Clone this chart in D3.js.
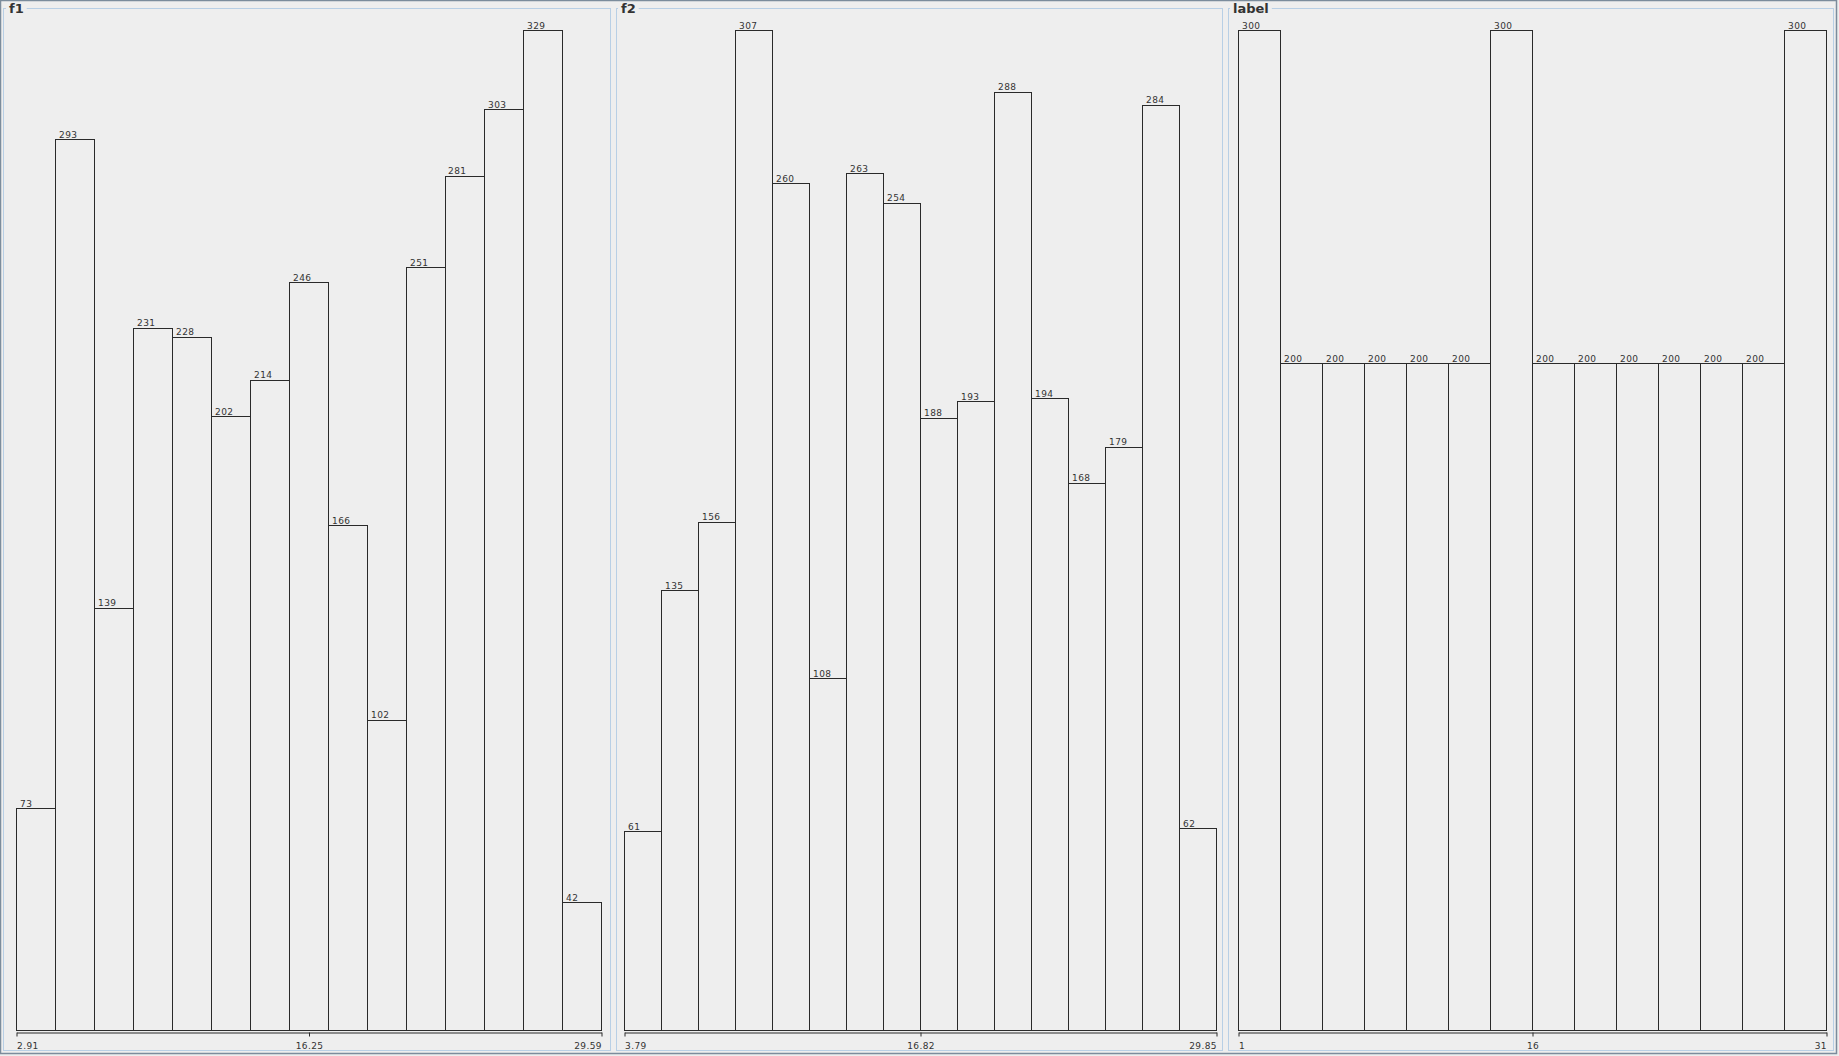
<!DOCTYPE html>
<html>
<head>
<meta charset="utf-8">
<script src="https://cdn.jsdelivr.net/npm/d3@7"></script>
<style>
  html, body { margin: 0; padding: 0; background: #eeeeee; }
  svg { display: block; }
  text { font-family: "DejaVu Sans", sans-serif; fill: #333; }
</style>
</head>
<body>
<svg id="chart" width="1839" height="1056"></svg>
<script>
// ---- data ----
const panelTitles = ["f1", "f2", "label"];
const f1Counts = [73, 293, 139, 231, 228, 202, 214, 246, 166, 102, 251, 281, 303, 329, 42];
const f2Counts = [61, 135, 156, 307, 260, 108, 263, 254, 188, 193, 288, 194, 168, 179, 284, 62];
const labelCounts = [300, 200, 200, 200, 200, 200, 300, 200, 200, 200, 200, 200, 200, 300];
const f1Ticks = ["2.91", "16.25", "29.59"];
const f2Ticks = ["3.79", "16.82", "29.85"];
const labelTicks = ["1", "16", "31"];

const seriesList = [f1Counts, f2Counts, labelCounts];
const tickList = [f1Ticks, f2Ticks, labelTicks];

// ---- layout ----
const svg = d3.select("#chart");
const W = 1839, H = 1056;
const frameCol = "#7b8c9c", borderCol = "#b8cfe5", ink = "#2a2a2a", bg = "#eeeeee";

svg.append("rect").attr("width", W).attr("height", H).attr("fill", bg);
svg.append("rect").attr("x", 0.5).attr("y", 0.5).attr("width", 1836).attr("height", 1053)
  .attr("fill", "none").attr("stroke", frameCol).attr("stroke-width", 1.5);

const panels = [
  { left: 3.5, right: 610.5, titleX: 9, ax0: 16.5, ax1: 601.5 },
  { left: 616.5, right: 1222.5, titleX: 621, ax0: 624.5, ax1: 1216.5 },
  { left: 1228.5, right: 1833.5, titleX: 1233, ax0: 1238.5, ax1: 1826.5 }
];
const panelTop = 8.5, panelBottom = 1050.5;
const barBase = 1030.5, barTop = 30.5, axisY = 1032.5;

panels.forEach((p, i) => {
  const data = seriesList[i];
  const ticks = tickList[i];
  const g = svg.append("g");

  // titled border
  g.append("rect").attr("x", p.left).attr("y", panelTop)
    .attr("width", p.right - p.left).attr("height", panelBottom - panelTop)
    .attr("fill", "none").attr("stroke", borderCol).attr("stroke-width", 1);
  const title = g.append("text").attr("x", p.titleX).attr("y", 13)
    .attr("font-size", 13).attr("font-weight", "bold").text(panelTitles[i]);
  const bb = title.node().getBBox();
  g.insert("rect", "text").attr("x", bb.x - 3).attr("y", panelTop - 2)
    .attr("width", bb.width + 6).attr("height", 4).attr("fill", bg);

  // scales
  const x = d3.scaleLinear().domain([0, data.length]).range([p.ax0, p.ax1]);
  const y = d3.scaleLinear().domain([0, d3.max(data)]).range([barBase, barTop]);

  // bars
  g.selectAll("rect.bar").data(data).enter().append("rect")
    .attr("class", "bar")
    .attr("x", (d, j) => Math.round(x(j) - 0.5) + 0.5)
    .attr("y", d => Math.round(y(d) - 0.5) + 0.5)
    .attr("width", (d, j) => Math.round(x(j + 1) - 0.5) - Math.round(x(j) - 0.5))
    .attr("height", d => barBase - (Math.round(y(d) - 0.5) + 0.5))
    .attr("fill", "none").attr("stroke", ink).attr("stroke-width", 1);

  // value labels
  g.selectAll("text.val").data(data).enter().append("text")
    .attr("class", "val")
    .attr("x", (d, j) => Math.round(x(j)) + 3)
    .attr("y", d => Math.round(y(d)) - 2)
    .attr("font-size", 9).attr("letter-spacing", 0.4)
    .text(d => d);

  // axis
  const lo = +ticks[0], hi = +ticks[2];
  const ax = d3.scaleLinear().domain([lo, hi]).range([p.ax0, p.ax1]);
  const axis = d3.axisBottom(ax)
    .tickValues(ticks.map(Number))
    .tickFormat((d, k) => ticks[k])
    .tickSize(4).tickSizeOuter(0).tickPadding(6);
  const ag = g.append("g").attr("transform", `translate(0,${axisY})`).call(axis);
  ag.select(".domain").attr("stroke", ink);
  ag.selectAll(".tick line").attr("stroke", ink);
  ag.selectAll(".tick text")
    .attr("font-size", 9).attr("font-family", "DejaVu Sans, sans-serif")
    .attr("fill", ink).attr("letter-spacing", 0.4)
    .attr("text-anchor", (d, k) => k === 0 ? "start" : (k === 2 ? "end" : "middle"));
});
</script>
</body>
</html>
